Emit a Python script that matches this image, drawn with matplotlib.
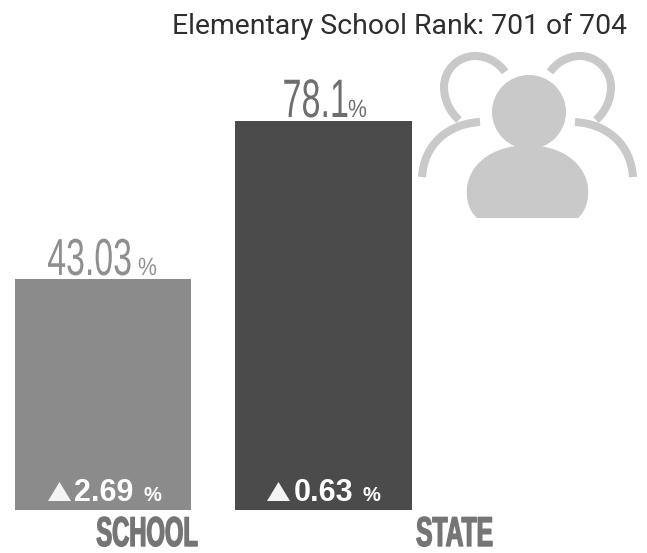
import matplotlib
matplotlib.use("Agg")
import matplotlib.pyplot as plt
from matplotlib.patches import Circle, PathPatch, Polygon
from matplotlib.path import Path
from matplotlib.patheffects import AbstractPathEffect
from matplotlib.transforms import Affine2D

categories = ["SCHOOL", "STATE"]
values = [43.03, 78.1]
value_labels = ["43.03", "78.1"]
changes = ["2.69", "0.63"]
title = "Elementary School Rank: 701 of 704"
bar_colors = ["#8b8b8b", "#4b4b4b"]
value_colors = ["#8f8f8f", "#6e6e6e"]
FLOOR = -8.3
DPI = 100


class Squeeze(AbstractPathEffect):
    """Narrow the glyphs of a real text about a pixel x position."""
    def __init__(self, sx, cx, stroke=0, dy=0):
        super().__init__()
        self.sx, self.cx, self.stroke, self.dy = sx, cx, stroke, dy

    def draw_path(self, renderer, gc, tpath, affine, rgbFace):
        aff = affine + Affine2D().translate(-self.cx, self.dy).scale(self.sx, 1).translate(self.cx, 0)
        g = renderer.new_gc()
        g.copy_properties(gc)
        if self.stroke:
            g.set_foreground(rgbFace)
            g.set_linewidth(self.stroke)
        else:
            g.set_linewidth(0)
        renderer.draw_path(g, tpath, aff, rgbFace)
        g.restore()


fig = plt.figure(figsize=(6.47, 5.53), dpi=DPI)
ax = fig.add_axes([0, 0, 1, 1])
ax.set_xlim(-0.467, 2.467)
ax.set_ylim(-17.85, 104.98)
ax.axis("off")
ax.bar(range(2), [v - FLOOR for v in values], bottom=FLOOR, width=0.8, color=bar_colors)

px = fig.add_axes([0, 0, 1, 1], facecolor="none")
px.set_xlim(0, 647)
px.set_ylim(553, 0)
px.axis("off")


def squeezed(x, y, s, sx, size, color, ha="right", weight="normal", stroke=0, dy=0):
    t = px.text(x, y, s, family="Liberation Sans", fontsize=size, color=color, ha=ha,
                va="baseline", weight=weight)
    t.set_path_effects([Squeeze(sx, x, stroke, dy)])
    return t


# title
px.text(399, 26, title, family="Roboto", fontsize=20.4, color="#2e2e2e", ha="center", va="center")

# value labels and percent signs
num_right = [132, 349]
pct_left = [138, 348]
base_y = [275, 117]
num_size = [37.5, 39]
num_sx = [0.65, 0.63]
for i in range(2):
    squeezed(num_right[i], base_y[i], value_labels[i], num_sx[i], num_size[i], value_colors[i])
    squeezed(pct_left[i], base_y[i], "%", 0.85, 18, value_colors[i], ha="left")

# change labels inside bars
tri_cx = [59.5, 278.5]
num_x = [104, 324]
pct_x = [152, 371.5]
for i in range(2):
    c = tri_cx[i]
    px.add_patch(Polygon([(c - 11.5, 501), (c + 11.5, 501), (c, 482)], fc="#f4f4f4", ec="none"))
    px.text(num_x[i], 501, changes[i], family="Liberation Sans", weight="bold", fontsize=22,
            color="white", ha="center", va="baseline")
    px.text(pct_x[i], 501, "%", family="Liberation Sans", weight="bold", fontsize=14.5,
            color="white", ha="center", va="baseline")

# category labels
cat_x = [147, 454.5]
cat_sx = [0.57, 0.59]
for i in range(2):
    squeezed(cat_x[i], 541, categories[i], cat_sx[i], 30, "#757575", ha="center", weight="bold",
             stroke=1.0, dy=-5)

# people icon
ICON = "#c9c9c9"
px.add_patch(Circle((529, 112), 37, color=ICON, lw=0))
body = Path([(477, 218), (468, 210), (466, 198), (467, 187),
             (470, 165), (490, 146), (527.5, 145),
             (565, 146), (585, 165), (588, 187),
             (589, 198), (587, 210), (578, 218), (477, 218)],
            [Path.MOVETO] + [Path.CURVE4] * 12 + [Path.CLOSEPOLY])
px.add_patch(PathPatch(body, fc=ICON, ec="none"))
for m in (0, 1):
    f = (lambda x: x) if m == 0 else (lambda x: 1055 - x)
    ring = Path([(f(505), 72), (f(498), 62), (f(487), 56), (f(475), 56),
                 (f(458), 56), (f(444), 70), (f(444), 87),
                 (f(444), 100), (f(450), 112), (f(459), 120)],
                [Path.MOVETO] + [Path.CURVE4] * 9)
    shoulder = Path([(f(480), 122), (f(447), 124), (f(424), 145), (f(422), 177)],
                    [Path.MOVETO] + [Path.CURVE4] * 3)
    for p in (ring, shoulder):
        px.add_patch(PathPatch(p, fc="none", ec=ICON, lw=5.8, capstyle="butt"))

fig.savefig("out.png", dpi=DPI)
